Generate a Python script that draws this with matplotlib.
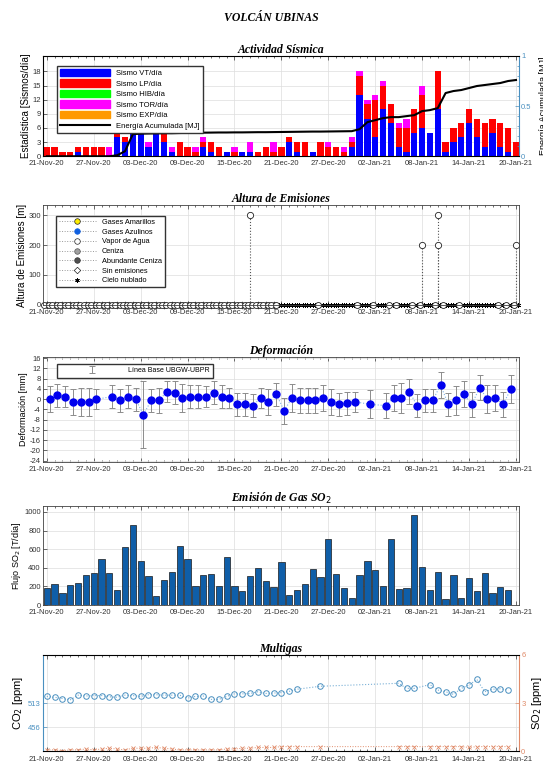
import numpy as np
import matplotlib.pyplot as plt
from matplotlib.lines import Line2D
from matplotlib.patches import Patch
from matplotlib.ticker import MultipleLocator

plt.rcParams['font.family'] = ['Liberation Sans', 'DejaVu Sans']
plt.rcParams['axes.unicode_minus'] = False

# day 0 = 21-Nov-2020
tick_days = [0, 6, 12, 18, 24, 30, 36, 42, 48, 54, 60]
tick_labels = ['21-Nov-20', '27-Nov-20', '03-Dec-20', '09-Dec-20', '15-Dec-20', '21-Dec-20',
               '27-Dec-20', '02-Jan-21', '08-Jan-21', '14-Jan-21', '20-Jan-21']

# --- actividad sismica (one value per day, 61 days) ---
sismo_vt = [0, 0, 0, 0, 1, 0, 0, 0, 0, 4, 3, 5, 6, 2, 6, 3, 1, 0, 0, 0,
            2, 1, 0, 1, 0, 1, 1, 0, 0, 0, 0, 3, 1, 0, 1, 0, 0, 0, 0, 2,
            13, 8, 4, 10, 7, 2, 1, 5, 6, 5, 10, 1, 3, 4, 7, 4, 2, 5, 2, 1, 0]
sismo_lp = [2, 2, 1, 1, 1, 2, 2, 2, 0, 1, 1, 0, 0, 0, 0, 3, 0, 3, 2, 1,
            1, 2, 2, 0, 1, 0, 0, 1, 2, 1, 2, 1, 2, 3, 0, 3, 2, 2, 1, 1,
            4, 3, 8, 5, 4, 4, 5, 5, 7, 0, 8, 2, 3, 3, 3, 4, 5, 3, 5, 5, 3]
sismo_hib = [0] * 61
sismo_tor = [0, 0, 0, 0, 0, 0, 0, 0, 2, 0, 0, 1, 0, 1, 0, 0, 1, 0, 0, 1,
             1, 0, 0, 0, 1, 0, 2, 0, 0, 2, 0, 0, 0, 0, 0, 0, 1, 0, 1, 1,
             1, 1, 1, 1, 0, 1, 2, 0, 2, 0, 0, 0, 0, 0, 0, 0, 0, 0, 0, 0, 0]
sismo_exp = [0] * 61
energia = [0, 0, 0, 0, 0, 0, 0, 0, 0, 0.01, 0.05, 0.22, 0.225, 0.227, 0.228, 0.23, 0.23,
           0.232, 0.233, 0.234, 0.235, 0.236, 0.237, 0.237, 0.238, 0.238, 0.239, 0.24, 0.24,
           0.241, 0.242, 0.243, 0.244, 0.245, 0.246, 0.246, 0.247, 0.248, 0.249, 0.25,
           0.27, 0.34, 0.36, 0.38, 0.39, 0.39, 0.40, 0.41, 0.45, 0.46, 0.48,
           0.63, 0.65, 0.66, 0.68, 0.70, 0.71, 0.72, 0.73, 0.75, 0.76]

# --- altura de emisiones ---
emis_days = [26, 48, 50, 50, 60]
emis_alt = [300, 200, 300, 200, 200]
# V: vapor / sin emisiones, N: cielo nublado, M: nublado con vapor
obs_code = ("VVVVVVVVVVVVVVVVVVVVVVVVVVVVVV"
            "NNNNNMNNNNMNMNMMNMMNMMNMNNNNMMM")

# --- deformacion ---
def_days = [0, 1, 2, 3, 4, 5, 6, 8, 9, 10,
            11, 12, 13, 14, 15, 16, 17, 18, 19, 20,
            21, 22, 23, 24, 25, 26, 27, 28, 29, 30,
            31, 32, 33, 34, 35, 36, 37, 38, 39, 41,
            43, 44, 45, 46, 47, 48, 49, 50, 51, 52,
            53, 54, 55, 56, 57, 58, 59]
def_vals = [0, 1.5, 1, -1, -1, -1, 0, 1, -0.5, 1,
            0, -6, -0.5, -0.5, 3, 2.5, 0.5, 1, 1, 1,
            2.5, 1, 0.5, -2, -2, -2.5, 0.5, -1, 2, -4.5,
            0.5, -0.5, -0.5, -0.5, 0.5, -1, -2, -1.5, -1, -2,
            -2.5, 0.5, 0.5, 3, -2.5, -0.5, -0.5, 5.5, -2, -0.5,
            2, -2, 4.5, 0, 0.5, -2, 4]
def_err = [5, 4.5, 4, 5, 5.5, 5.5, 4, 4.5, 4.5, 4.5,
           4.5, 13, 4.5, 5, 4, 4.5, 5.5, 4.5, 4.5, 4,
           4.5, 4.5, 4, 4.5, 4.5, 4.5, 4, 5, 4.5, 5,
           5.5, 5, 5, 5, 5, 5, 4.5, 4.5, 4, 5.5,
           5, 5, 6, 5, 4.5, 4.5, 4.5, 5, 4.5, 5.5,
           5, 5, 5, 5.5, 5, 5, 5.5]

# --- flujo SO2 (60 days) ---
so2_flujo = [180, 225, 135, 220, 235, 320, 340, 500, 345, 160,
             625, 855, 475, 315, 95, 275, 355, 630, 495, 210,
             320, 335, 200, 520, 210, 155, 310, 400, 255, 190,
             460, 105, 160, 230, 385, 300, 705, 335, 180, 75,
             325, 470, 375, 205, 710, 175, 180, 965, 410, 165,
             360, 65, 320, 75, 295, 150, 350, 125, 195, 160]

# --- multigas ---
mg_days = [0, 1, 2, 3, 4, 5, 6, 7, 8, 9, 10, 11, 12, 13, 14, 15, 16, 17, 18, 19,
           20, 21, 22, 23, 24, 25, 26, 27, 28, 29, 30, 31, 32, 35,
           45, 46, 47, 49, 50, 51, 52, 53, 54, 55, 56, 57, 58, 59]
co2_ppm = [529, 527, 524, 521, 532, 530, 531, 531, 528, 527,
           532, 531, 529, 533, 533, 532, 532, 532, 525, 529,
           530, 522, 522, 529, 535, 535, 536, 540, 536, 537,
           538, 541, 546, 553,
           560, 548, 548, 557, 544, 540, 534, 548, 556, 569, 540, 546, 547, 544]
so2_ppm = [0.1, 0.1, 0.05, 0.1, 0.1, 0.15, 0.1, 0.15, 0.2, 0.15,
           0.1, 0.2, 0.2, 0.2, 0.25, 0.2, 0.15, 0.1, 0.1, 0.1,
           0.1, 0.1, 0.1, 0.15, 0.15, 0.2, 0.2, 0.25, 0.25, 0.25,
           0.3, 0.3, 0.3, 0.3,
           0.3, 0.3, 0.3, 0.3, 0.3, 0.3, 0.3, 0.3, 0.25, 0.3, 0.3, 0.3, 0.3, 0.3]

title_font = dict(family='Liberation Serif', weight='bold', style='italic', size=8.5)
blue_mg = '#4a90c0'
orange_mg = '#e08a68'


def style(ax):
    ax.set_xlim(-0.5, 60.4)
    ax.set_xticks(tick_days)
    ax.set_xticklabels(tick_labels)
    ax.xaxis.set_minor_locator(MultipleLocator(1))
    ax.tick_params(which='both', direction='in', top=True, labelsize=5.5, pad=1.5,
                   colors='#333333', width=0.5)
    ax.tick_params(axis='x', pad=3)
    ax.tick_params(which='major', length=3)
    ax.tick_params(which='minor', length=1.5)
    ax.grid(True, which='major', color='#dddddd', lw=0.5)
    ax.set_axisbelow(True)
    for s in ax.spines.values():
        s.set_linewidth(0.6)
        s.set_color('#404040')


fig = plt.figure(figsize=(5.43, 7.66), dpi=100)
L, W = 0.079, 0.877
ax1 = fig.add_axes([L, 0.796, W, 0.131])
ax2 = fig.add_axes([L, 0.602, W, 0.130])
ax3 = fig.add_axes([L, 0.397, W, 0.137])
ax4 = fig.add_axes([L, 0.210, W, 0.129])
ax5 = fig.add_axes([L, 0.019, W, 0.126])

fig.text(0.5, 1 - 18 / 766, 'VOLCÁN UBINAS', ha='center', va='center', **title_font)

# ---------------- panel 1 ----------------
days61 = np.arange(61)
style(ax1)
ax1.tick_params(which='both', right=False)
bottom = np.zeros(61)
cols = ['#0000ff', '#ff0000', '#00ff00', '#ff00ff', '#ff9900']
names = ['Sismo VT/día', 'Sismo LP/día', 'Sismo HIB/día', 'Sismo TOR/día', 'Sismo EXP/día']
for serie, c in zip([sismo_vt, sismo_lp, sismo_hib, sismo_tor, sismo_exp], cols):
    ax1.bar(days61, serie, bottom=bottom, width=0.8, color=c, lw=0)
    bottom += np.array(serie)
ax1.set_ylim(0, 21.3)
ax1.set_yticks(range(0, 19, 3))
ax1.set_ylabel('Estadística [Sismos/día]', fontsize=7, labelpad=1)
ax1.set_title('Actividad Sísmica', fontdict=title_font, pad=2)

ax1b = ax1.twinx()
ax1b.plot(days61, energia, color='black', lw=1.5)
ax1b.set_ylim(0, 1)
ax1b.set_yticks([0, 0.5, 1])
ax1b.set_yticklabels(['0', '0.5', '1'])
ax1b.yaxis.set_minor_locator(MultipleLocator(0.1))
ax1b.tick_params(which='both', direction='in', labelsize=5.5, pad=1.5, colors=blue_mg, width=0.5)
ax1b.tick_params(which='major', length=3)
ax1b.tick_params(which='minor', length=1.5)
ax1b.spines['right'].set_color(blue_mg)
ax1b.set_ylabel('Energía Acumulada [MJ]', fontsize=6.5, labelpad=5)
handles = [Patch(color=c) for c in cols] + [Line2D([], [], color='black', lw=1.5)]
ax1b.legend(handles, names + ['Energía Acumulada [MJ]'], loc='upper left',
            bbox_to_anchor=(0.022, 0.94), fontsize=5.5, handlelength=6.5, handleheight=1.1,
            labelspacing=0.3, borderpad=0.4, fancybox=False, framealpha=1, edgecolor='#333333')

# ---------------- panel 2 ----------------
style(ax2)
vap_x, dia_x, nub_x = [], [], []
for d, c in enumerate(obs_code):
    if c == 'V':
        vap_x += [d - 0.3, d + 0.3]
        dia_x += [d]
    elif c == 'N':
        nub_x += [d - 0.3, d, d + 0.3]
    else:
        vap_x += [d - 0.3]
        nub_x += [d, d + 0.3]
ax2.plot(nub_x, np.zeros(len(nub_x)), ls='none', marker=(6, 2, 0), ms=3.5, color='black',
         mew=0.6, clip_on=False)
ax2.plot(dia_x, np.zeros(len(dia_x)), ls='none', marker='D', ms=3.5, mfc='white', mec='#222222',
         mew=0.6, clip_on=False)
ax2.plot(vap_x, np.zeros(len(vap_x)), ls='none', marker='o', ms=4.3, mfc='white', mec='#222222',
         mew=0.6, clip_on=False)
ax2.vlines(emis_days, 0, emis_alt, colors='#555555', linestyles=':', lw=0.8)
ax2.plot(emis_days, emis_alt, ls='none', marker='o', ms=4.5, mfc='white', mec='#222222', mew=0.6)
ax2.set_ylim(0, 333)
ax2.set_yticks([0, 100, 200, 300])
ax2.set_ylabel('Altura de Emisiones [m]', fontsize=7, labelpad=1)
ax2.set_title('Altura de Emisiones', fontdict=title_font, pad=2)
lk = dict(color='#999999', ls=':', lw=0.7, mew=0.5)
em_handles = [
    Line2D([], [], marker='o', ms=4, mfc='#ffee00', mec='#222222', **lk),
    Line2D([], [], marker='o', ms=4, mfc='#1060e0', mec='#1060e0', **lk),
    Line2D([], [], marker='o', ms=4, mfc='white', mec='#222222', **lk),
    Line2D([], [], marker='o', ms=4, mfc='#a0a0a0', mec='#555555', **lk),
    Line2D([], [], marker='o', ms=4, mfc='#505050', mec='#333333', **lk),
    Line2D([], [], marker='D', ms=3.3, mfc='white', mec='#222222', **lk),
    Line2D([], [], marker=(6, 2, 0), ms=3.3, mec='black', **lk),
]
em_labels = ['Gases Amarillos', 'Gases Azulinos', 'Vapor de Agua', 'Ceniza', 'Abundante Ceniza',
             'Sin emisiones', 'Cielo nublado']
ax2.legend(em_handles, em_labels, loc='upper left', bbox_to_anchor=(0.02, 0.93), fontsize=5.3,
           handlelength=5, labelspacing=0.35, borderpad=0.4, fancybox=False, framealpha=1,
           edgecolor='#333333')

# ---------------- panel 3 ----------------
style(ax3)
def_x = np.array(def_days) + 0.35
ax3.plot(def_x, def_vals, ls=':', color='#80b4e8', lw=0.8)
ax3.errorbar(def_x, def_vals, yerr=def_err, fmt='none', ecolor='#8c8c8c', elinewidth=0.7,
             capsize=2.5, capthick=0.7, label='Línea Base UBGW-UBPR')
ax3.plot(def_x, def_vals, ls='none', marker='o', color='#0000ee', ms=5)
ax3.set_ylim(-24.5, 16.5)
ax3.set_yticks(range(-24, 17, 4))
ax3.set_ylabel('Deformación [mm]', fontsize=6.5, labelpad=1)
ax3.set_title('Deformación', fontdict=title_font, pad=2)
ax3.legend(loc='upper left', bbox_to_anchor=(0.022, 0.97), fontsize=5, handlelength=9,
           borderpad=0.5, fancybox=False, framealpha=1, edgecolor='#333333')

# ---------------- panel 4 ----------------
style(ax4)
ax4.bar(np.arange(60), so2_flujo, width=0.8, color='#0f5ea8', edgecolor='#1a1a1a', lw=0.5)
ax4.set_ylim(0, 1060)
ax4.set_yticks(range(0, 1001, 200))
ax4.set_ylabel('Flujo SO$_2$ [T/día]', fontsize=6.5, labelpad=1)
ax4.set_title('Emisión de Gas SO$_2$', fontdict=title_font, pad=2)

# ---------------- panel 5 ----------------
style(ax5)
ax5.plot(mg_days, co2_ppm, ls=':', color='#7ab0d6', lw=0.8, marker='o', ms=4, mfc='none',
         mec=blue_mg, mew=0.7)
ax5.set_ylim(399, 627)
ax5.set_yticks([456, 513])
ax5.tick_params(axis='y', colors=blue_mg)
ax5.spines['left'].set_color(blue_mg)
ax5.set_ylabel('CO$_2$ [ppm]', fontsize=8, labelpad=2)
ax5.set_title('Multigas', fontdict=title_font, pad=2)
ax5b = ax5.twinx()
ax5b.plot(mg_days, so2_ppm, ls=':', color=orange_mg, lw=0.7, marker='x', ms=2.5, mew=0.6)
ax5b.set_ylim(0, 6)
ax5b.set_yticks([0, 3, 6])
ax5b.tick_params(direction='in', labelsize=5.5, pad=1.5, colors=orange_mg, width=0.5, length=3)
ax5b.spines['right'].set_color(orange_mg)
ax5b.spines['left'].set_color(blue_mg)
ax5b.set_ylabel('SO$_2$ [ppm]', fontsize=8, labelpad=3)

fig.savefig('out.png', dpi=100)
